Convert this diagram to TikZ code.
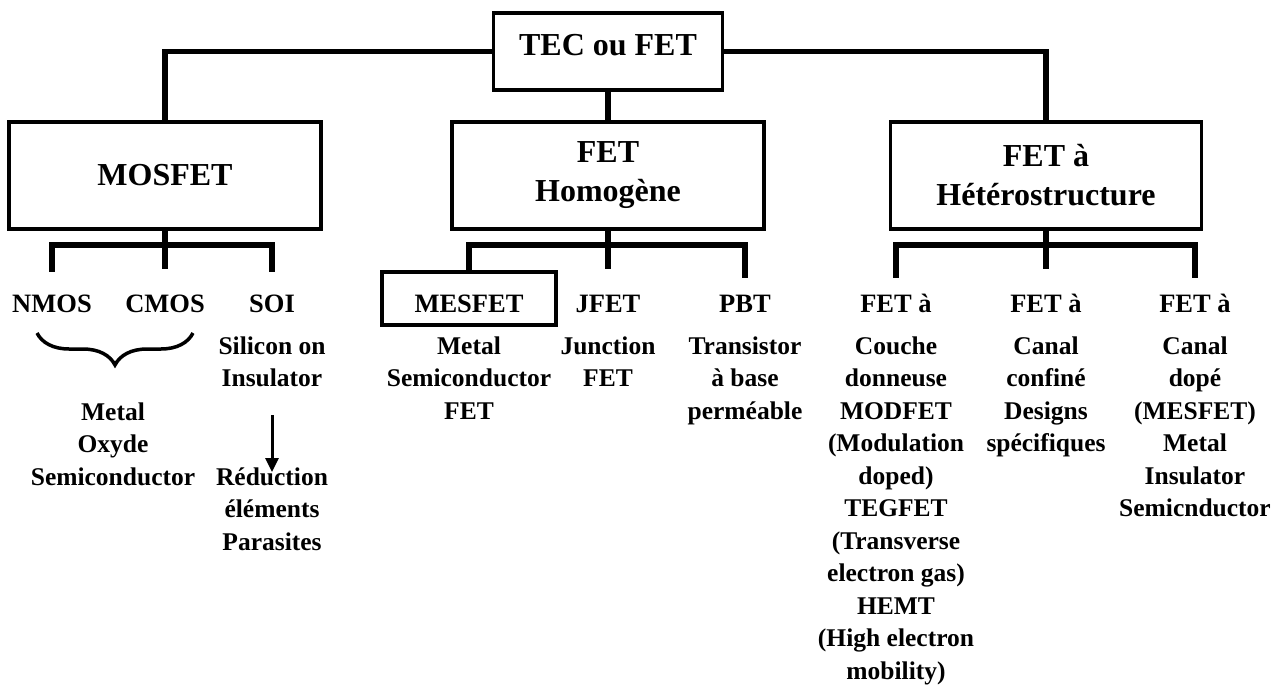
\documentclass[tikz,border=0pt]{standalone}
\usepackage{fontspec}
\setmainfont{Liberation Serif}
\usetikzlibrary{arrows.meta,decorations.pathreplacing}

\newcommand{\boxfont}{\fontsize{32}{39}\selectfont\bfseries}
\newcommand{\kindfont}{\fontsize{26.5}{32.5}\selectfont\bfseries}
\newcommand{\descfont}{\fontsize{25.5}{32.5}\selectfont\bfseries}

\begin{document}
\begin{tikzpicture}[x=1pt, y=-1pt,
	famille/.style={draw, line width=3.8pt, inner sep=0pt, outer sep=0pt, font=\boxfont, align=center},
	kind/.style={font=\kindfont, inner sep=0pt, text height=17pt, text depth=0pt, anchor=base},
	desc/.style={font=\descfont, inner sep=0pt, align=center, anchor=north, execute at begin node=\strut},
	conn/.style={line width=5.5pt},
	fleche/.style={line width=3pt, -{Triangle[length=14pt,width=13pt]}},
	accolade/.style={line width=3.5pt, decorate, decoration={brace, amplitude=32pt}}]
	\useasboundingbox (0,0) rectangle (1277,690);

	\node[famille, minimum width=229pt, minimum height=77pt, text depth=14pt] (tec) at (608,51.5) {TEC ou FET};
	\node[famille, minimum width=312pt, minimum height=107pt] (mos) at (165,175.5) {MOSFET};
	\node[famille, minimum width=312pt, minimum height=107pt] (hom) at (608,175.5) {FET\\Homogène};
	\node[famille, minimum width=311pt, minimum height=107pt] (het) at (1046,175.5) {FET à\\Hétérostructure};

	\node[kind] (nmos) at (52,312) {NMOS};
	\node[kind] (cmos) at (165,312) {CMOS};
	\node[kind] (soi) at (272,312) {SOI};
	\node[famille, line width=3.5pt, minimum width=174pt, minimum height=53pt, font=\kindfont, text height=27pt, text depth=0pt] (mesfet) at (469,298.5) {MESFET};
	\node[kind] (jfet) at (608,312) {JFET};
	\node[kind] (pbt) at (745,312) {PBT};
	\node[kind] (feta) at (896,312) {FET à};
	\node[kind] (fetb) at (1046,312) {FET à};
	\node[kind] (fetc) at (1195,312) {FET à};

	\node[desc] (mosdesc) at (113,402.25) {Metal\\Oxyde\\Semiconductor};
	\node[desc] (soidesc) at (272,336.25) {Silicon on\\Insulator};
	\node[desc] (soired) at (272,467.25) {Réduction\\éléments\\Parasites};
	\node[desc] (mesdesc) at (469,336.25) {Metal\\Semiconductor\\FET};
	\node[desc] (jdesc) at (608,336.25) {Junction\\FET};
	\node[desc] (pdesc) at (745,336.25) {Transistor\\à base\\perméable};
	\node[desc] (adesc) at (896,336.25) {Couche\\donneuse\\MODFET\\(Modulation\\doped)\\TEGFET\\(Transverse\\electron gas)\\HEMT\\(High electron\\mobility)};
	\node[desc] (bdesc) at (1046,336.25) {Canal\\confiné\\Designs\\spécifiques};
	\node[desc] (cdesc) at (1195,336.25) {Canal\\dopé\\(MESFET)\\Metal\\Insulator\\Semicnductor};

	\draw[conn] (tec.west) -| (mos.north);
	\draw[conn] (tec.east) -| (het.north);
	\draw[conn] (tec.south) -- (hom.north);

	\draw[conn] (mos.south) -- ([yshift=26pt]cmos.north);
	\draw[conn] ([yshift=23pt]nmos.north) -- ++(0,-27) -| ([yshift=23pt]soi.north);
	\draw[conn] (hom.south) -- ([yshift=26pt]jfet.north);
	\draw[conn] (mesfet.north) -- ++(0,-27) -| ([yshift=17pt]pbt.north);
	\draw[conn] (het.south) -- ([yshift=26pt]fetb.north);
	\draw[conn] ([yshift=17pt]feta.north) -- ++(0,-33) -| ([yshift=17pt]fetc.north);

	\draw[accolade] (193,333) -- (37,333);
	\draw[fleche, shorten <=18.5pt, shorten >=-4.75pt] (soidesc) -- (soired);
\end{tikzpicture}
\end{document}
